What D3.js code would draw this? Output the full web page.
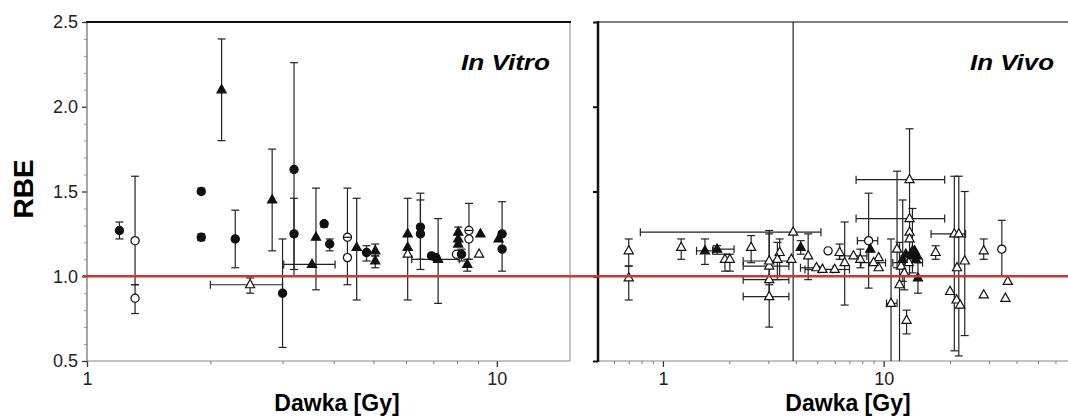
<!DOCTYPE html>
<html>
<head>
<meta charset="utf-8">
<script src="https://cdn.jsdelivr.net/npm/d3@7"></script>
<style>
  body { margin: 0; background: #fff; }
  svg { display: block; font-family: "Liberation Sans", Arial, sans-serif; }
</style>
</head>
<body>
<svg id="chart" width="1068" height="417"></svg>
<script>
// ---- data ----
// marker codes: fc filled circle, oc open circle, oh open circle with bar, ft filled triangle, ot open triangle
const yTicks = [0.5, 1.0, 1.5, 2.0, 2.5];
const yMinor = [0.6, 0.7, 0.8, 0.9, 1.1, 1.2, 1.3, 1.4, 1.6, 1.7, 1.8, 1.9, 2.1, 2.2, 2.3, 2.4];
const vitroTicks = [1, 10];
const vitroMinor = [2, 3, 4, 5, 6, 7, 8, 9];
const vivoTicks = [1, 10];
const vivoMinor = [0.6, 0.7, 0.8, 0.9, 2, 3, 4, 5, 6, 7, 8, 9, 20, 30, 40, 50, 60, 70];

// In Vitro
const vitroDose = [1.20, 1.31, 1.31, 1.90, 1.90, 2.13, 2.30, 2.50, 2.83, 3.00, 3.20, 3.20, 3.54, 3.62, 3.79, 3.91, 4.32, 4.32, 4.55, 4.81, 5.05, 5.05, 6.06, 6.06, 6.06, 6.51, 6.51, 6.93, 7.10, 7.19, 8.05, 8.05, 8.05, 7.97, 8.20, 8.47, 8.55, 8.55, 9.12, 9.05, 10.1, 10.3, 10.3];
const vitroRbe = [1.27, 1.21, 0.87, 1.50, 1.23, 2.10, 1.22, 0.95, 1.45, 0.90, 1.63, 1.25, 1.07, 1.23, 1.31, 1.19, 1.23, 1.11, 1.17, 1.14, 1.15, 1.09, 1.25, 1.17, 1.13, 1.29, 1.25, 1.12, 1.11, 1.10, 1.26, 1.22, 1.19, 1.13, 1.13, 1.07, 1.27, 1.22, 1.25, 1.13, 1.22, 1.25, 1.16];
const vitroLo = [1.22, 0.95, 0.78, 1.49, 1.21, 1.80, 1.05, 0.90, 1.15, 0.58, 1.00, 1.04, null, 0.92, 1.29, 1.15, null, 0.95, 0.86, 1.09, 1.12, 1.05, 0.86, null, null, 1.10, 1.04, null, null, 0.84, 1.18, null, null, null, 1.09, 1.03, 1.10, null, null, null, null, 1.03, null];
const vitroHi = [1.32, 1.59, 0.95, 1.52, 1.25, 2.40, 1.39, 0.99, 1.75, 1.22, 2.26, 1.46, null, 1.52, 1.32, 1.22, null, 1.52, 1.46, 1.18, 1.19, 1.12, 1.46, null, null, 1.49, 1.45, null, null, 1.34, 1.29, null, null, null, 1.16, 1.10, 1.43, null, null, null, null, 1.44, null];
const vitroDoseLo = [null, null, null, null, null, null, null, 2.0, null, null, null, null, 3.02, null, null, null, null, null, null, null, null, null, null, null, null, null, null, null, null, 6.2, null, null, null, null, null, null, null, null, null, null, null, null, null];
const vitroDoseHi = [null, null, null, null, null, null, null, 3.0, null, null, null, null, 4.03, null, null, null, null, null, null, null, null, null, null, null, null, null, null, null, null, 8.1, null, null, null, null, null, null, null, null, null, null, null, null, null];
const vitroMarker = ["fc", "oc", "oc", "fc", "fc", "ft", "fc", "ot", "ft", "fc", "fc", "fc", "ft", "ft", "fc", "fc", "oh", "oc", "ft", "fc", "ft", "ft", "ft", "ft", "ot", "fc", "fc", "fc", "fc", "ft", "ft", "ft", "ft", "oc", "fc", "ft", "oh", "oc", "ft", "ot", "ft", "fc", "fc"];

// In Vivo
const vivoDose = [0.70, 0.70, 1.21, 1.55, 1.76, 1.91, 2.01, 2.51, 3.89, 3.03, 3.03, 3.03, 3.03, 3.38, 3.30, 3.82, 4.21, 4.55, 4.96, 5.28, 5.6, 6.32, 6.0, 6.66, 7.84, 8.55, 8.70, 9.49, 9.49, 13.1, 13.1, 13.1, 13.1, 13.8, 14.2, 13.4, 14.3, 11.8, 10.8, 12.7, 12.0, 17.2, 20.9, 21.9, 21.5, 23.3, 20.0, 21.4, 22.2, 28.4, 34.3, 36.5, 28.4, 35.6, 13.5, 14.0, 12.6, 13.0, 12.4, 9.0, 7.3, 12.2, 11.5];
const vivoRbe = [1.15, 0.99, 1.17, 1.15, 1.16, 1.10, 1.10, 1.17, 1.26, 1.06, 0.98, 0.88, 1.09, 1.14, 1.10, 1.10, 1.17, 1.12, 1.05, 1.04, 1.15, 1.14, 1.04, 1.08, 1.10, 1.21, 1.16, 1.11, 1.05, 1.57, 1.34, 1.26, 1.22, 1.15, 1.12, 1.12, 0.99, 0.95, 0.84, 0.74, 1.06, 1.14, 1.25, 1.25, 1.05, 1.09, 0.91, 0.86, 0.83, 1.15, 1.16, 0.97, 0.89, 0.87, 1.15, 1.10, 1.13, 1.08, 1.02, 1.08, 1.12, 1.10, 1.16];
const vivoLo = [1.06, 0.86, 1.10, 1.07, 1.13, 1.03, 1.03, 1.08, 0.30, 0.98, 0.88, 0.70, null, 1.00, 0.98, null, 1.13, 0.98, null, null, null, 1.10, null, 0.83, 1.05, 0.93, null, null, null, 1.00, null, null, null, null, null, null, 0.90, 0.30, 0.30, 0.66, null, 1.10, 0.56, 0.53, null, 0.65, null, null, null, 1.10, 1.00, null, null, null, 1.02, null, null, null, 0.92, null, null, 0.97, 1.05];
const vivoHi = [1.22, 1.06, 1.22, 1.22, 1.18, 1.13, 1.13, 1.24, 3.00, 1.27, 1.25, 0.95, null, 1.22, 1.20, null, 1.21, 1.25, null, null, null, 1.19, null, 1.32, 1.16, 1.49, null, null, null, 1.87, null, null, null, null, null, null, 1.08, 1.20, 1.22, 0.80, null, 1.18, 1.59, 1.59, null, 1.50, null, null, null, 1.22, 1.33, null, null, null, 1.40, null, null, null, 1.12, null, null, 1.45, 1.62];
const vivoDoseLo = [null, null, null, 1.42, 1.69, null, null, null, 0.79, 2.31, 2.31, 2.31, 2.31, null, null, null, null, null, 4.2, 4.4, null, null, 5.1, null, null, 7.6, null, null, null, 7.5, 7.5, null, null, null, null, null, null, null, 10.3, null, null, null, 16.4, null, null, null, null, null, null, null, null, null, null, null, null, null, null, 11.0, null, 7.9, 6.3, null, null];
const vivoDoseHi = [null, null, null, 1.68, 2.10, null, null, null, 5.2, 3.72, 3.72, 3.72, 3.72, null, null, null, null, null, 5.3, 5.9, null, null, 7.0, null, null, 9.4, null, null, null, 18.9, 18.9, null, null, null, null, null, null, null, 11.5, null, null, null, 23.5, null, null, null, null, null, null, null, null, null, null, null, null, null, null, 15.0, null, 10.2, 8.4, null, null];
const vivoMarker = ["ot", "ot", "ot", "ft", "ft", "ot", "ot", "ot", "ot", "ot", "ot", "ot", "ot", "ot", "ot", "ot", "ft", "ot", "ot", "ot", "oc", "ot", "ot", "ot", "ot", "oc", "ft", "ot", "ot", "ot", "ot", "ot", "ot", "ft", "ft", "ft", "ft", "ot", "ot", "ot", "ot", "ot", "ot", "ot", "ot", "ot", "ot", "ot", "ot", "ot", "oc", "ot", "ot", "ot", "ft", "ft", "ft", "ot", "ot", "ot", "ot", "ft", "ot"];

// ---- layout ----
const svg = d3.select("#chart");
const plotTop = 22, plotBottom = 361;

const yScale = d3.scaleLinear().domain([0.5, 2.5]).range([plotBottom, plotTop]);
const xVitro = d3.scaleLog().domain([1, 15]).range([87, 569]);
const xVivo = d3.scaleLog().domain([0.508, 80]).range([598, 1083]);

const defs = svg.append("defs");
defs.append("clipPath").attr("id", "clipVitro").append("rect")
    .attr("x", 87).attr("y", plotTop).attr("width", 569 - 87).attr("height", plotBottom - plotTop);
defs.append("clipPath").attr("id", "clipVivo").append("rect")
    .attr("x", 598).attr("y", plotTop).attr("width", 1068 - 598).attr("height", plotBottom - plotTop);

function styleAxis(g, color, width, fontSize) {
    g.select(".domain").remove();
    g.selectAll("line").attr("stroke", color).attr("stroke-width", width);
    g.selectAll("text").attr("font-size", fontSize).attr("fill", "#222")
        .attr("font-family", "'Liberation Sans', Arial, sans-serif");
}

// ---- axes ----
// left panel y
svg.append("g").attr("transform", `translate(87,0)`)
    .call(d3.axisLeft(yScale).tickValues(yMinor).tickSize(3).tickFormat(""))
    .call(g => styleAxis(g, "#999", 1, 0));
svg.append("g").attr("transform", `translate(87,0)`)
    .call(d3.axisLeft(yScale).tickValues(yTicks).tickSize(5).tickPadding(4).tickFormat(d3.format(".1f")))
    .call(g => styleAxis(g, "#333", 1.3, 18));

// left panel x
svg.append("g").attr("transform", `translate(0,${plotBottom})`)
    .call(d3.axisBottom(xVitro).tickValues(vitroMinor).tickSize(3).tickFormat(""))
    .call(g => styleAxis(g, "#777", 1, 0));
svg.append("g").attr("transform", `translate(0,${plotBottom})`)
    .call(d3.axisBottom(xVitro).tickValues(vitroTicks).tickSize(6).tickPadding(5).tickFormat(d3.format("d")))
    .call(g => styleAxis(g, "#333", 1.3, 18));

// right panel y (ticks only)
svg.append("g").attr("transform", `translate(598,0)`)
    .call(d3.axisLeft(yScale).tickValues(yTicks).tickSize(5).tickFormat(""))
    .call(g => styleAxis(g, "#111", 2, 0));

// right panel x
svg.append("g").attr("transform", `translate(0,${plotBottom})`)
    .call(d3.axisBottom(xVivo).tickValues(vivoMinor).tickSize(3).tickFormat(""))
    .call(g => styleAxis(g, "#777", 1, 0));
svg.append("g").attr("transform", `translate(0,${plotBottom})`)
    .call(d3.axisBottom(xVivo).tickValues(vivoTicks).tickSize(6).tickPadding(5).tickFormat(d3.format("d")))
    .call(g => styleAxis(g, "#333", 1.3, 18));

// ---- frames ----
const frame = svg.append("g");
frame.append("line").attr("x1", 87).attr("x2", 87).attr("y1", plotTop).attr("y2", plotBottom).attr("stroke", "#777").attr("stroke-width", 1.3);
frame.append("line").attr("x1", 87).attr("x2", 570).attr("y1", plotBottom).attr("y2", plotBottom).attr("stroke", "#888").attr("stroke-width", 1.2);
frame.append("line").attr("x1", 570).attr("x2", 570).attr("y1", plotTop).attr("y2", plotBottom).attr("stroke", "#999").attr("stroke-width", 1.2);
frame.append("line").attr("x1", 86).attr("x2", 571).attr("y1", plotTop).attr("y2", plotTop).attr("stroke", "#111").attr("stroke-width", 2.2);
frame.append("line").attr("x1", 598).attr("x2", 1068).attr("y1", plotTop).attr("y2", plotTop).attr("stroke", "#555").attr("stroke-width", 1.6);
frame.append("line").attr("x1", 598).attr("x2", 1068).attr("y1", plotBottom).attr("y2", plotBottom).attr("stroke", "#888").attr("stroke-width", 1.2);
frame.append("line").attr("x1", 598).attr("x2", 598).attr("y1", plotTop - 1).attr("y2", plotBottom + 1).attr("stroke", "#111").attr("stroke-width", 2.5);

// ---- points ----
function markerPath(code) {
    if (code[1] === "t") return "M0,-5.2L4.6,3L-4.6,3Z";
    return d3.symbol(d3.symbolCircle, Math.PI * 4.1 * 4.1)();
}

function drawPanel(clipId, x, dose, rbe, lo, hi, dlo, dhi, marker) {
    const g = svg.append("g").attr("clip-path", `url(#${clipId})`);
    const idx = d3.range(dose.length);
    const cap = 4;
    const bars = g.append("g").attr("stroke", "#222").attr("stroke-width", 1.2).attr("fill", "none");

    const yIdx = idx.filter(i => lo[i] != null);
    bars.selectAll(".vbar").data(yIdx).join("line").attr("class", "vbar")
        .attr("x1", i => x(dose[i])).attr("x2", i => x(dose[i]))
        .attr("y1", i => yScale(lo[i])).attr("y2", i => yScale(hi[i]));
    bars.selectAll(".vcapLo").data(yIdx).join("line").attr("class", "vcapLo")
        .attr("x1", i => x(dose[i]) - cap).attr("x2", i => x(dose[i]) + cap)
        .attr("y1", i => yScale(lo[i])).attr("y2", i => yScale(lo[i]));
    bars.selectAll(".vcapHi").data(yIdx).join("line").attr("class", "vcapHi")
        .attr("x1", i => x(dose[i]) - cap).attr("x2", i => x(dose[i]) + cap)
        .attr("y1", i => yScale(hi[i])).attr("y2", i => yScale(hi[i]));

    const xIdx = idx.filter(i => dlo[i] != null);
    bars.selectAll(".hbar").data(xIdx).join("line").attr("class", "hbar")
        .attr("x1", i => x(dlo[i])).attr("x2", i => x(dhi[i]))
        .attr("y1", i => yScale(rbe[i])).attr("y2", i => yScale(rbe[i]));
    bars.selectAll(".hcapLo").data(xIdx).join("line").attr("class", "hcapLo")
        .attr("x1", i => x(dlo[i])).attr("x2", i => x(dlo[i]))
        .attr("y1", i => yScale(rbe[i]) - cap).attr("y2", i => yScale(rbe[i]) + cap);
    bars.selectAll(".hcapHi").data(xIdx).join("line").attr("class", "hcapHi")
        .attr("x1", i => x(dhi[i])).attr("x2", i => x(dhi[i]))
        .attr("y1", i => yScale(rbe[i]) - cap).attr("y2", i => yScale(rbe[i]) + cap);

    const pts = g.append("g").selectAll("g").data(idx).join("g")
        .attr("transform", i => `translate(${x(dose[i])},${yScale(rbe[i])})`);
    pts.append("path")
        .attr("d", i => markerPath(marker[i]))
        .attr("fill", i => marker[i][0] === "f" ? "#111" : "#fff")
        .attr("stroke", "#111").attr("stroke-width", 1.2);
    pts.filter(i => marker[i] === "oh").append("line")
        .attr("x1", -4).attr("x2", 4).attr("stroke", "#111").attr("stroke-width", 1.2);
}

drawPanel("clipVitro", xVitro, vitroDose, vitroRbe, vitroLo, vitroHi, vitroDoseLo, vitroDoseHi, vitroMarker);
drawPanel("clipVivo", xVivo, vivoDose, vivoRbe, vivoLo, vivoHi, vivoDoseLo, vivoDoseHi, vivoMarker);

// reference line RBE = 1
svg.append("line")
    .attr("x1", 83).attr("x2", 1068)
    .attr("y1", yScale(1)).attr("y2", yScale(1))
    .attr("stroke", "#c8373a").attr("stroke-width", 2.6);

// ---- labels ----
svg.append("text").attr("x", 550).attr("y", 70).attr("text-anchor", "end")
    .attr("font-size", 22).attr("font-weight", "bold").attr("font-style", "italic")
    .attr("textLength", 89).attr("lengthAdjust", "spacingAndGlyphs")
    .text("In Vitro");
svg.append("text").attr("x", 1054).attr("y", 70).attr("text-anchor", "end")
    .attr("font-size", 22).attr("font-weight", "bold").attr("font-style", "italic")
    .attr("textLength", 84).attr("lengthAdjust", "spacingAndGlyphs")
    .text("In Vivo");

svg.append("text").attr("transform", "translate(33,189) rotate(-90)")
    .attr("text-anchor", "middle").attr("font-size", 28).attr("font-weight", "bold")
    .text("RBE");

svg.append("text").attr("x", 337).attr("y", 411).attr("text-anchor", "middle")
    .attr("font-size", 23).attr("font-weight", "bold")
    .text("Dawka [Gy]");
svg.append("text").attr("x", 848).attr("y", 411).attr("text-anchor", "middle")
    .attr("font-size", 23).attr("font-weight", "bold")
    .text("Dawka [Gy]");
</script>
</body>
</html>
